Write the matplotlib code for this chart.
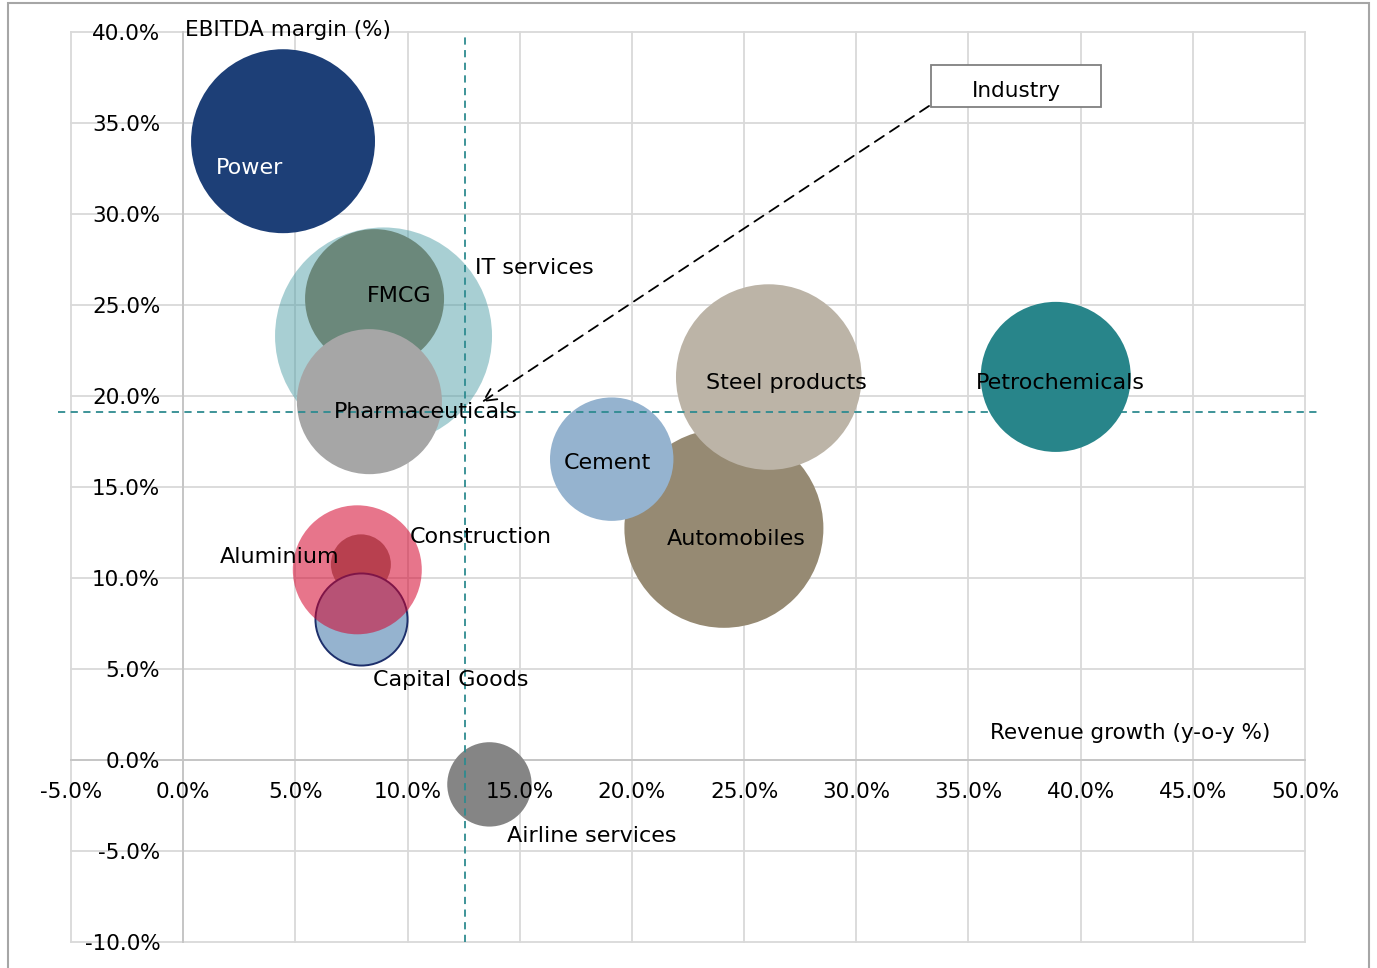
import matplotlib.pyplot as plt
from matplotlib.patches import Rectangle

plt.rcParams['font.family'] = ['DejaVu Sans']

# data (drawing order = list order)
industries = ['IT services', 'FMCG', 'Pharmaceuticals', 'Aluminium', 'Capital Goods',
              'Construction', 'Automobiles', 'Cement', 'Steel products',
              'Airline services', 'Power', 'Petrochemicals']
revenue_growth = [8.93, 8.53, 8.30, 7.92, 7.92, 7.76, 24.10, 19.10, 26.10, 13.65, 4.45, 38.89]
ebitda_margin = [23.30, 25.35, 19.69, 10.75, 7.75, 10.45, 12.73, 16.53, 21.04, -1.34, 34.00, 21.05]
bubble_size = [117.7, 48.3, 52.6, 9.0, 21.2, 41.6, 99.0, 38.1, 86.1, 17.8, 84.6, 56.3]
avg_growth = 12.56
avg_margin = 19.11
x_ticks = list(range(-5, 51, 5))
y_ticks = list(range(-10, 41, 5))

# styles
colors = ['#52a0a8', '#6b887b', '#a6a6a6', '#998d7b', '#95b3cf', '#d4002a',
          '#968a73', '#95b3cf', '#bcb4a7', '#858585', '#1d3f77', '#28858a']
alphas = [0.5, 1, 1, 1, 1, 0.54, 1, 1, 1, 1, 1, 1]
edges = ['none', 'none', 'none', 'none', '#1d2f6b', 'none',
         'none', 'none', 'none', 'none', 'none', 'none']
# label offsets in pixels from bubble centre (dx, dy downwards), left aligned
label_off = [(91, -68), (-8, -3), (-36, 10), (-141, -7), (12, 61), (52, -33),
             (-57, 11), (-48, 4), (-63, 6), (18, 52), (-67, 27), (-80, 6)]
label_col = ['black'] * 10 + ['white', 'black']
fs = 15.5
fs_lab = 16

fig = plt.figure(figsize=(13.77, 9.68), dpi=100)
ax = fig.add_axes([71 / 1377, 26 / 968, 1234 / 1377, 910 / 968])
ax.set_xlim(-5, 50)
ax.set_ylim(-10, 40)

grid_col = '#d9d9d9'
for v in x_ticks:
    ax.axvline(v, color=grid_col, lw=1.3, zorder=0, clip_on=False)
for v in y_ticks:
    ax.axhline(v, color=grid_col, lw=1.3, zorder=0, clip_on=False)

for s in ['top', 'right']:
    ax.spines[s].set_visible(False)
ax.spines['left'].set_position(('data', 0))
ax.spines['bottom'].set_position(('data', 0))
for s in ['left', 'bottom']:
    ax.spines[s].set_color('#c4c4c4')
    ax.spines[s].set_linewidth(1.3)
    ax.spines[s].set_zorder(0.5)

ax.set_xticks(x_ticks)
ax.set_yticks(y_ticks)
ax.set_xticklabels(['{:.1f}%'.format(v) for v in x_ticks])
ax.set_yticklabels(['{:.1f}%'.format(v) for v in y_ticks])
ax.tick_params(axis='both', length=0, labelsize=fs, colors='black')
ax.tick_params(axis='x', pad=16)
ax.tick_params(axis='y', pad=16.5)
ax.xaxis.set_zorder(7)
ax.yaxis.set_zorder(7)
ax.patch.set_visible(False)

scale = (20 * 0.72) ** 2
for i, name in enumerate(industries):
    z = 6 if name == 'Petrochemicals' else 2 + i * 0.1
    ax.scatter(revenue_growth[i], ebitda_margin[i], s=bubble_size[i] * scale,
               color=colors[i], alpha=alphas[i], edgecolors=edges[i],
               linewidths=1.4 if edges[i] != 'none' else 0, zorder=z)
    ax.annotate(name, (revenue_growth[i], ebitda_margin[i]),
                xytext=(label_off[i][0], -label_off[i][1]), textcoords='offset pixels',
                ha='left', va='center', fontsize=fs_lab, color=label_col[i], zorder=10)

# average lines
ax.plot([avg_growth, avg_growth], [-10, 40], color='#2e8b90', lw=1.3,
        dashes=(4, 3), zorder=5, clip_on=False)
ax.plot([-5.6, 50.7], [avg_margin, avg_margin], color='#2e8b90', lw=1.3,
        dashes=(4, 3), zorder=5, clip_on=False)

# axis titles
ax.text(0.1, 40.1, 'EBITDA margin (%)', fontsize=fs, ha='left', va='center')
ax.text(35.96, 1.5, 'Revenue growth (y-o-y %)', fontsize=fs, ha='left', va='center')

# legend-like box with arrow
ax.add_patch(Rectangle((0.6969, 0.9176), 0.1378, 0.0461, transform=ax.transAxes,
                       facecolor='white', edgecolor='#808080', lw=1.3, zorder=8,
                       clip_on=False))
ax.text(0.7658, 0.9352, 'Industry', transform=ax.transAxes, fontsize=fs,
        ha='center', va='center', zorder=9)
ax.annotate('', xy=(0.3331, 0.5934), xycoords='axes fraction',
            xytext=(0.6953, 0.9187), textcoords='axes fraction',
            arrowprops=dict(arrowstyle='->', color='black', lw=1.3,
                            linestyle=(0, (6, 4)), mutation_scale=22,
                            shrinkA=0, shrinkB=0), zorder=9)

# outer frame
fig.patches.append(Rectangle((8 / 1377, -0.05), 1361 / 1377, 1.05 - 3 / 968,
                             transform=fig.transFigure, fill=False,
                             edgecolor='#a6a6a6', lw=1.5))

fig.savefig('out.png', dpi=100)
